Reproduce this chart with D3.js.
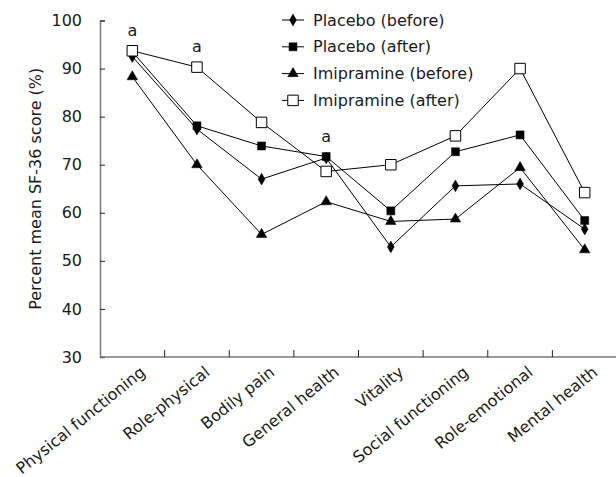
<!DOCTYPE html>
<html>
<head>
<meta charset="utf-8">
<script src="https://cdn.jsdelivr.net/npm/d3@7"></script>
<style>
  body { margin: 0; background: #fff; }
  svg text { font-family: "DejaVu Sans", sans-serif; fill: #1a1a1a; }
</style>
</head>
<body>
<div id="container"></div>
<script>
const categories = ["Physical functioning", "Role-physical", "Bodily pain", "General health",
    "Vitality", "Social functioning", "Role-emotional", "Mental health"];
const placeboBefore = [92.5, 77.4, 67.0, 71.4, 52.9, 65.6, 66.0, 56.6];
const placeboAfter = [93.5, 78.1, 73.9, 71.7, 60.4, 72.7, 76.2, 58.4];
const imipramineBefore = [88.3, 70.0, 55.5, 62.3, 58.2, 58.7, 69.4, 52.3];
const imipramineAfter = [93.7, 90.3, 78.8, 68.6, 70.0, 76.0, 90.0, 64.2];
const seriesNames = ["Placebo (before)", "Placebo (after)", "Imipramine (before)", "Imipramine (after)"];
const yTicks = [30, 40, 50, 60, 70, 80, 90, 100];
// significance marks: category index + the series value they sit above
const marks = [{ i: 0, v: 93.7 }, { i: 1, v: 90.3 }, { i: 3, v: 71.7 }];

const width = 616, height = 477;
const margin = { left: 100, top: 20.5, right: 0, bottom: 120 };
const fontSize = 16;

const svg = d3.select('#container').append('svg')
    .attr('width', width).attr('height', height);

const x = d3.scaleBand().domain(categories).range([margin.left, 617]).padding(0);
const y = d3.scaleLinear().domain([30, 100]).range([357, margin.top]);

const series = [
    { name: seriesNames[0], values: placeboBefore, shape: d3.symbolDiamond, size: 40, fill: '#000' },
    { name: seriesNames[1], values: placeboAfter, shape: d3.symbolSquare, size: 64, fill: '#000' },
    { name: seriesNames[2], values: imipramineBefore, shape: d3.symbolTriangle, size: 48, fill: '#000' },
    { name: seriesNames[3], values: imipramineAfter, shape: d3.symbolSquare, size: 110, fill: '#fff' }
];

// y axis, ticks pointing inward
const yAxis = svg.append('g')
    .attr('transform', `translate(${margin.left},0)`)
    .call(d3.axisLeft(y).tickValues(yTicks).tickSize(-5).tickPadding(18));
yAxis.select('.domain').attr('stroke', '#777').attr('stroke-width', 1.5);
yAxis.selectAll('.tick line').attr('stroke', '#222');
yAxis.selectAll('.tick text').attr('font-size', fontSize).attr('font-family', '"DejaVu Sans", sans-serif')
    .attr('fill', '#1a1a1a');

// x axis, ticks between categories pointing inward
const xAxis = svg.append('g').attr('transform', 'translate(0,357)');
xAxis.append('line')
    .attr('x1', margin.left).attr('x2', width)
    .attr('stroke', '#777').attr('stroke-width', 1.5);
xAxis.selectAll('.tk').data(categories.slice(1)).join('line')
    .attr('x1', d => x(d)).attr('x2', d => x(d))
    .attr('y1', 0).attr('y2', -7)
    .attr('stroke', '#222');
xAxis.selectAll('.lbl').data(categories).join('text')
    .attr('transform', d => `translate(${x(d) + x.bandwidth() / 2 + 14},${17}) rotate(-39)`)
    .attr('text-anchor', 'end')
    .attr('font-size', fontSize)
    .text(d => d);

// y label
svg.append('text')
    .attr('transform', `translate(41,${(357 + margin.top) / 2}) rotate(-90)`)
    .attr('text-anchor', 'middle')
    .attr('font-size', fontSize)
    .text('Percent mean SF-36 score (%)');

const cx = d => x(d) + x.bandwidth() / 2;
const line = d3.line().x((d, i) => cx(categories[i])).y(d => y(d));

series.forEach(s => {
    svg.append('path')
        .attr('d', line(s.values))
        .attr('fill', 'none')
        .attr('stroke', '#000')
        .attr('stroke-width', 1);
});
series.forEach(s => {
    svg.append('g').selectAll('path').data(s.values).join('path')
        .attr('transform', (d, i) => `translate(${cx(categories[i])},${y(d)})`)
        .attr('d', d3.symbol(s.shape, s.size))
        .attr('fill', s.fill)
        .attr('stroke', '#000')
        .attr('stroke-width', s.fill === '#fff' ? 1 : 0.5);
});

// significance letters
svg.selectAll('.mark').data(marks).join('text')
    .attr('x', d => cx(categories[d.i]))
    .attr('y', d => y(d.v) - 15)
    .attr('text-anchor', 'middle')
    .attr('font-size', fontSize)
    .text('a');

// legend
const legend = svg.append('g').attr('transform', 'translate(282,20)');
series.forEach((s, i) => {
    const g = legend.append('g').attr('transform', `translate(0,${i * 26.8})`);
    g.append('line').attr('x1', 0).attr('x2', 22).attr('stroke', '#000');
    g.append('path')
        .attr('transform', 'translate(11,0)')
        .attr('d', d3.symbol(s.shape, s.size))
        .attr('fill', s.fill)
        .attr('stroke', '#000')
        .attr('stroke-width', s.fill === '#fff' ? 1 : 0.5);
    g.append('text')
        .attr('x', 31).attr('dy', '0.35em')
        .attr('font-size', fontSize)
        .text(s.name);
});
</script>
</body>
</html>
